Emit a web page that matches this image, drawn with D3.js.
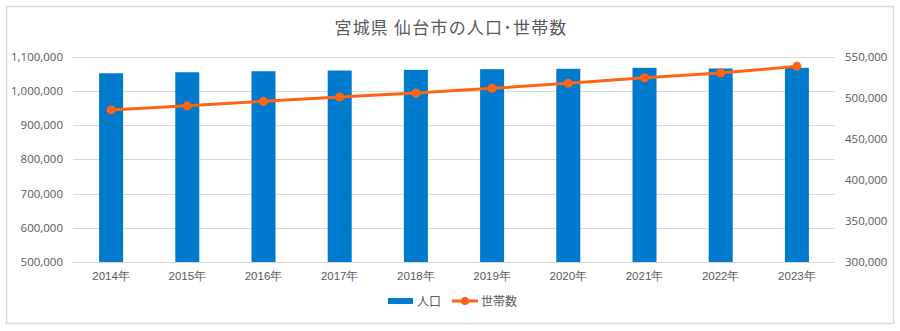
<!DOCTYPE html>
<html>
<head>
<meta charset="utf-8">
<script src="https://cdn.jsdelivr.net/npm/d3@7"></script>
<style>
  html, body { margin: 0; padding: 0; background: #fff; }
  svg { display: block; font-family: "Noto Sans CJK JP", "Noto Sans", sans-serif; }
</style>
</head>
<body>
<svg id="chart" width="900" height="331"></svg>
<script>
// 仙台市の人口（棒）と世帯数（折れ線）
const years = ["2014年", "2015年", "2016年", "2017年", "2018年", "2019年", "2020年", "2021年", "2022年", "2023年"];
const population = [1051000, 1054000, 1057000, 1059000, 1061000, 1063000, 1064000, 1067000, 1065000, 1067000];
const households = [485000, 490000, 495500, 500700, 505600, 511300, 517400, 524200, 529900, 538000];
const leftTicks = [500000, 600000, 700000, 800000, 900000, 1000000, 1100000];
const rightTicks = [300000, 350000, 400000, 450000, 500000, 550000];

const titleText = "宮城県 仙台市の人口･世帯数";
const legendLabels = ["人口", "世帯数"];

const barColor = "#007ACC";
const lineColor = "#FF6414";
const textColor = "#595959";
const gridColor = "#D9D9D9";

const svg = d3.select("#chart");

// outer chart frame
svg.append("rect")
  .attr("x", 6.5).attr("y", 6.5)
  .attr("width", 887).attr("height", 317)
  .attr("fill", "#fff").attr("stroke", gridColor).attr("stroke-width", 1.5);

const plot = { left: 73, right: 835, top: 56.5, bottom: 262 };

const x = d3.scaleBand().domain(years).range([plot.left, plot.right]).paddingInner(0.685).paddingOuter(0.3425);
const yL = d3.scaleLinear().domain([500000, 1100000]).range([plot.bottom, plot.top]);
const yR = d3.scaleLinear().domain([300000, 550000]).range([plot.bottom, plot.top]);

const fmt = d3.format(",");
const numFont = "'Open Sans', 'Noto Sans', sans-serif";

// gridlines
svg.append("g")
  .selectAll("line").data(leftTicks).join("line")
  .attr("x1", plot.left).attr("x2", plot.right)
  .attr("y1", d => Math.round(yL(d)) + 0.5).attr("y2", d => Math.round(yL(d)) + 0.5)
  .attr("stroke", gridColor).attr("stroke-width", 1);

// left axis
const axL = svg.append("g")
  .attr("transform", `translate(${plot.left},0)`)
  .call(d3.axisLeft(yL).tickValues(leftTicks).tickFormat(fmt).tickSize(0).tickPadding(10));
axL.select(".domain").remove();
axL.selectAll("text").attr("fill", textColor).style("font-size", "11.5px").style("font-family", numFont);

// right axis
const axR = svg.append("g")
  .attr("transform", `translate(${plot.right},0)`)
  .call(d3.axisRight(yR).tickValues(rightTicks).tickFormat(fmt).tickSize(0).tickPadding(10));
axR.select(".domain").remove();
axR.selectAll("text").attr("fill", textColor).style("font-size", "11.5px").style("font-family", numFont);

// bars
svg.append("g")
  .selectAll("rect").data(years).join("rect")
  .attr("x", d => x(d))
  .attr("width", x.bandwidth())
  .attr("y", (d, i) => yL(population[i]))
  .attr("height", (d, i) => yL(500000) - yL(population[i]))
  .attr("fill", barColor);

// x axis labels
const axB = svg.append("g")
  .attr("transform", `translate(0,${plot.bottom})`)
  .call(d3.axisBottom(x).tickSize(0).tickPadding(10));
axB.select(".domain").remove();
axB.selectAll("text").attr("fill", textColor).style("font-size", "11.5px");

// households line
const cx = d => x(d) + x.bandwidth() / 2;
const line = d3.line().x((d, i) => cx(years[i])).y(d => yR(d));
svg.append("path")
  .datum(households)
  .attr("d", line)
  .attr("fill", "none")
  .attr("stroke", lineColor)
  .attr("stroke-width", 3)
  .attr("stroke-linejoin", "round");
svg.append("g")
  .selectAll("circle").data(households).join("circle")
  .attr("cx", (d, i) => cx(years[i]))
  .attr("cy", d => yR(d))
  .attr("r", 4.5)
  .attr("fill", lineColor);

// title
svg.append("text")
  .attr("x", 451).attr("y", 34)
  .attr("text-anchor", "middle")
  .attr("fill", textColor)
  .style("font-size", "17px")
  .style("letter-spacing", "1.2px")
  .text(titleText);

// legend
const lg = svg.append("g");
lg.append("rect").attr("x", 388).attr("y", 298).attr("width", 25).attr("height", 6).attr("fill", barColor);
lg.append("text").attr("x", 417).attr("y", 306).attr("fill", textColor).style("font-size", "12px").text(legendLabels[0]);
lg.append("line").attr("x1", 452).attr("x2", 478).attr("y1", 301).attr("y2", 301).attr("stroke", lineColor).attr("stroke-width", 3);
lg.append("circle").attr("cx", 465).attr("cy", 301).attr("r", 4).attr("fill", lineColor);
lg.append("text").attr("x", 481).attr("y", 306).attr("fill", textColor).style("font-size", "12px").text(legendLabels[1]);
</script>
</body>
</html>
